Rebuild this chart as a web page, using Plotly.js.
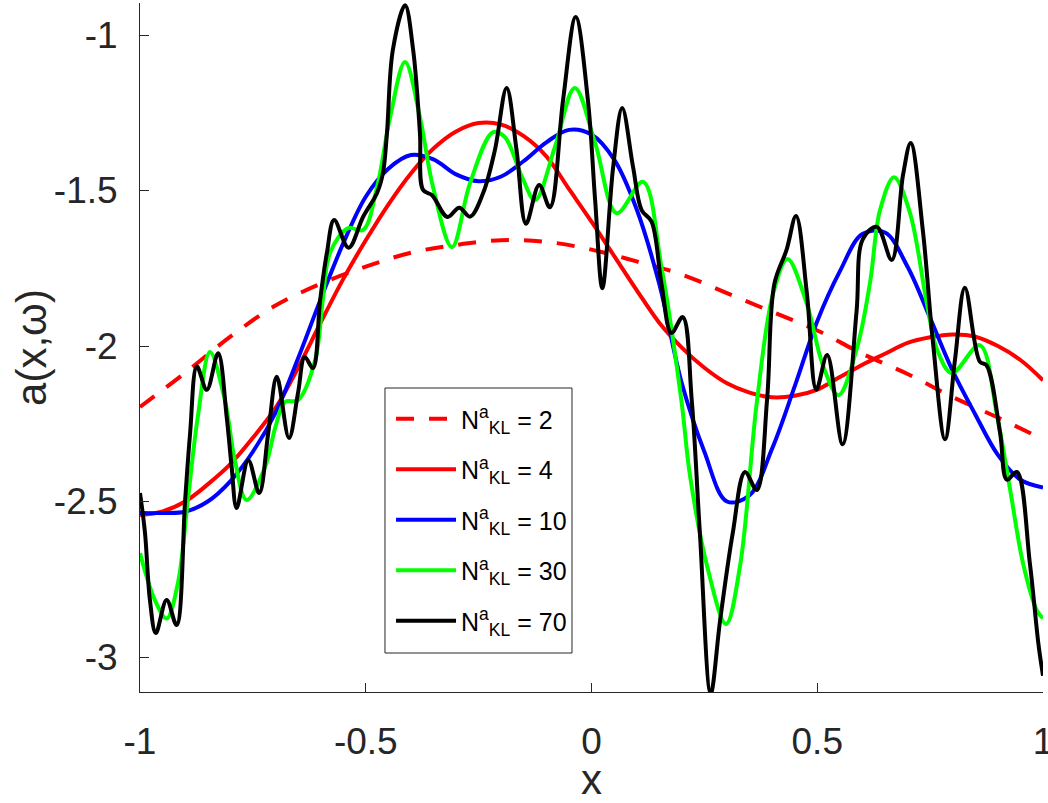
<!DOCTYPE html>
<html>
<head>
<meta charset="utf-8">
<script src="https://cdn.plot.ly/plotly-3.0.1.min.js"></script>
<style>html,body{margin:0;padding:0;background:#fff;}#chart{width:1048px;height:803px;}</style>
</head>
<body>
<div id="chart"></div>
<script>
// ---- data ----
const seriesNames = ["N<sup>a</sup><sub>KL</sub> = 2", "N<sup>a</sup><sub>KL</sub> = 4", "N<sup>a</sup><sub>KL</sub> = 10", "N<sup>a</sup><sub>KL</sub> = 30", "N<sup>a</sup><sub>KL</sub> = 70"];

const x2 = [-1,-0.9,-0.8,-0.7,-0.6,-0.5,-0.4,-0.3,-0.2,-0.1,0,0.1,0.2,0.3,0.4,0.5,0.6,0.7,0.8,0.9,1];
const y2 = [-2.196,-2.086,-1.97,-1.87,-1.80,-1.745,-1.70,-1.675,-1.66,-1.665,-1.69,-1.728,-1.77,-1.83,-1.89,-1.95,-2.025,-2.09,-2.164,-2.23,-2.30];

const x4 = [-1,-0.95,-0.9,-0.85,-0.8,-0.75,-0.7,-0.65,-0.6,-0.55,-0.5,-0.45,-0.4,-0.35,-0.3,-0.25,-0.2,-0.15,-0.1,-0.05,0,0.05,0.1,0.15,0.2,0.25,0.3,0.35,0.4,0.45,0.5,0.55,0.6,0.65,0.7,0.75,0.8,0.85,0.9,0.95,1];
const y4 = [-2.543,-2.532,-2.50,-2.445,-2.38,-2.295,-2.20,-2.07,-1.925,-1.785,-1.66,-1.545,-1.445,-1.365,-1.31,-1.283,-1.288,-1.325,-1.39,-1.495,-1.60,-1.71,-1.82,-1.925,-2.005,-2.07,-2.12,-2.15,-2.165,-2.16,-2.14,-2.10,-2.06,-2.025,-1.99,-1.972,-1.963,-1.97,-2.0,-2.045,-2.11];

const x10 = [-1,-0.95,-0.9,-0.85,-0.8,-0.75,-0.7,-0.65,-0.6,-0.55,-0.5,-0.45,-0.4,-0.35,-0.3,-0.25,-0.2,-0.15,-0.1,-0.05,0,0.05,0.1,0.15,0.2,0.25,0.3,0.35,0.4,0.45,0.5,0.55,0.6,0.65,0.7,0.75,0.8,0.85,0.9,0.95,1];
const y10 = [-2.537,-2.537,-2.533,-2.50,-2.435,-2.34,-2.215,-2.04,-1.85,-1.67,-1.52,-1.43,-1.386,-1.40,-1.448,-1.47,-1.455,-1.405,-1.345,-1.305,-1.32,-1.40,-1.56,-1.80,-2.12,-2.34,-2.50,-2.48,-2.33,-2.13,-1.92,-1.76,-1.64,-1.635,-1.745,-1.91,-2.08,-2.22,-2.35,-2.43,-2.455];

const x30 = [-1,-0.967,-0.941,-0.916,-0.894,-0.872,-0.845,-0.812,-0.79,-0.764,-0.723,-0.70,-0.679,-0.650,-0.612,-0.595,-0.579,-0.539,-0.506,-0.475,-0.446,-0.413,-0.38,-0.351,-0.309,-0.269,-0.218,-0.192,-0.154,-0.125,-0.081,-0.037,0.008,0.056,0.114,0.155,0.199,0.218,0.256,0.298,0.329,0.366,0.402,0.434,0.477,0.513,0.547,0.588,0.617,0.639,0.670,0.705,0.743,0.765,0.798,0.860,0.898,0.927,0.956,0.987,1.0];
const y30 = [-2.666,-2.817,-2.876,-2.762,-2.495,-2.228,-2.019,-2.174,-2.367,-2.495,-2.389,-2.26,-2.18,-2.174,-2.045,-1.85,-1.70,-1.621,-1.627,-1.489,-1.264,-1.087,-1.264,-1.489,-1.682,-1.476,-1.312,-1.328,-1.456,-1.531,-1.36,-1.17,-1.347,-1.573,-1.472,-1.746,-2.174,-2.415,-2.707,-2.894,-2.707,-2.183,-1.833,-1.72,-1.865,-2.064,-2.158,-2.006,-1.795,-1.563,-1.457,-1.57,-1.865,-2.01,-2.087,-1.997,-2.222,-2.46,-2.70,-2.852,-2.875];

const x70 = [-1,-0.989,-0.978,-0.965,-0.941,-0.919,-0.90,-0.889,-0.874,-0.852,-0.827,-0.808,-0.797,-0.786,-0.760,-0.736,-0.716,-0.697,-0.670,-0.650,-0.635,-0.617,-0.601,-0.586,-0.570,-0.538,-0.506,-0.475,-0.462,-0.453,-0.44,-0.413,-0.395,-0.38,-0.373,-0.353,-0.319,-0.293,-0.269,-0.24,-0.214,-0.188,-0.166,-0.145,-0.116,-0.092,-0.063,-0.035,-0.008,0.008,0.024,0.048,0.068,0.092,0.111,0.133,0.155,0.177,0.202,0.222,0.240,0.264,0.285,0.313,0.340,0.366,0.389,0.405,0.432,0.453,0.477,0.498,0.522,0.556,0.587,0.601,0.632,0.665,0.690,0.707,0.734,0.756,0.783,0.805,0.827,0.860,0.875,0.905,0.920,0.942,0.971,0.990,1.0];
const y70 = [-2.473,-2.60,-2.817,-2.923,-2.817,-2.897,-2.495,-2.28,-2.066,-2.141,-2.023,-2.228,-2.389,-2.521,-2.367,-2.473,-2.28,-2.099,-2.296,-2.151,-2.035,-2.071,-1.852,-1.70,-1.595,-1.684,-1.585,-1.508,-1.444,-1.315,-1.048,-0.904,-1.048,-1.315,-1.498,-1.515,-1.585,-1.555,-1.584,-1.508,-1.37,-1.17,-1.37,-1.607,-1.482,-1.554,-1.209,-0.942,-1.209,-1.53,-1.814,-1.424,-1.235,-1.424,-1.563,-1.60,-1.80,-1.958,-1.907,-2.174,-2.60,-3.117,-2.88,-2.60,-2.405,-2.463,-2.17,-1.80,-1.691,-1.582,-1.83,-2.14,-2.029,-2.316,-1.89,-1.656,-1.617,-1.723,-1.45,-1.347,-1.63,-1.984,-2.30,-2.045,-1.813,-2.05,-2.062,-2.28,-2.43,-2.405,-2.70,-2.96,-3.06];

const xTickVals = [-1,-0.5,0,0.5,1];
const xTickText = ["-1","-0.5","0","0.5","1"];
const yTickVals = [-3,-2.5,-2,-1.5,-1];
const yTickText = ["-3","-2.5","-2","-1.5","-1"];

// ---- chart ----
const colors = ["#ff0000","#ff0000","#0000ff","#00ff00","#000000"];
const dashes = ["18px,15px","solid","solid","solid","solid"];
const xs = [x2,x4,x10,x30,x70];
const ys = [y2,y4,y10,y30,y70];

const traces = xs.map((xv,i)=>({
  x: xv, y: ys[i], type:"scatter", mode:"lines", name: seriesNames[i],
  legendgroup: "g"+i,
  line: {color: colors[i], width: 4, dash: dashes[i], shape: "spline", smoothing: 1}
}));

const FONT = "Liberation Sans, Arial, Helvetica, sans-serif";
const AX = "#262626";
const layout = {
  width: 1048, height: 803,
  margin: {l:140, r:5, t:3, b:111},
  paper_bgcolor: "#ffffff", plot_bgcolor: "#ffffff",
  font: {family: FONT, color: AX},
  showlegend: true,
  legend: {
    x: 0.2780, y: 0.4296, xanchor: "left", yanchor: "top",
    bgcolor: "rgba(0,0,0,0)", borderwidth: 0,
    font: {size: 25, family: FONT, color: "#000000"},
    itemwidth: 60, tracegroupgap: 15, traceorder: "grouped"
  },
  shapes: [{
    type: "rect", xref: "paper", yref: "paper", layer: "above",
    x0: 0.2713, x1: 0.4784, y0: 0.0566, y1: 0.4412,
    line: {color: AX, width: 1}, fillcolor: "#ffffff"
  }],
  xaxis: {
    range: [-1, 1], tickvals: xTickVals, ticktext: xTickText,
    ticklabeloverflow: "allow",
    showgrid: false, zeroline: false, showline: true, linecolor: AX, linewidth: 1,
    ticks: "inside", ticklen: 9, tickwidth: 1, tickcolor: AX,
    tickfont: {size: 37, family: FONT, color: AX}, ticklabelstandoff: 17,
    title: {text: "x", font: {size: 42, family: FONT, color: AX}},
    mirror: false
  },
  yaxis: {
    range: [-3.1125, -0.897], tickvals: yTickVals, ticktext: yTickText,
    showgrid: false, zeroline: false, showline: true, linecolor: AX, linewidth: 1,
    ticks: "inside", ticklen: 9, tickwidth: 1, tickcolor: AX,
    tickfont: {size: 37, family: FONT, color: AX}, ticklabelstandoff: 14,
    title: {text: "a(x,ω)", font: {size: 42, family: FONT, color: AX}},
    mirror: false
  }
};

Plotly.newPlot("chart", traces, layout, {displayModeBar: false, staticPlot: true});
</script>
</body>
</html>
